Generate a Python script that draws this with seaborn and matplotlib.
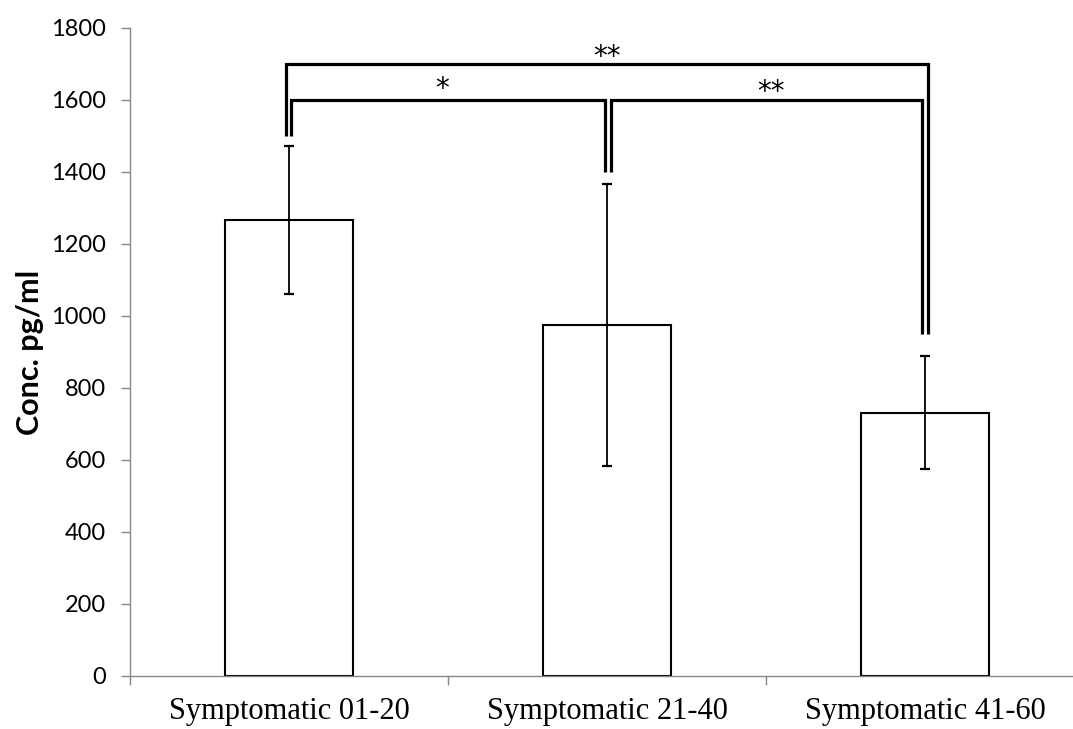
import matplotlib
matplotlib.use("Agg")
import matplotlib.pyplot as plt
import seaborn as sns
import pandas as pd
import numpy as np

categories = ["Symptomatic 01-20", "Symptomatic 21-40", "Symptomatic 41-60"]
means = [1266, 975, 731]
errors = [206, 393, 157]
y_ticks = [0, 200, 400, 600, 800, 1000, 1200, 1400, 1600, 1800]
# significance comparisons: (left group, right group, bracket level, left leg end, right leg end, label)
comparisons = [
    (0, 2, 1700, 1500, 950, "**"),
    (0, 1, 1600, 1500, 1400, "*"),
    (1, 2, 1600, 1400, 950, "**"),
]
star_pos = [(1.0, 1698), (0.48, 1607), (1.515, 1601)]

sns.set_theme(style="white")
plt.rcParams["font.family"] = ["Lato", "DejaVu Sans"]
plt.rcParams["text.color"] = "black"
plt.rcParams["xtick.color"] = "black"
plt.rcParams["ytick.color"] = "black"
plt.rcParams["axes.labelcolor"] = "black"

fig = plt.figure(figsize=(10.73, 7.29), dpi=100)
ax = fig.add_axes([130 / 1073, 1 - 676 / 729, 954 / 1073, 648 / 729])

df = pd.DataFrame({"group": categories, "conc": means})
sns.barplot(data=df, x="group", y="conc", color="white", edgecolor="black",
            linewidth=1.5, width=0.4, ax=ax, errorbar=None)
for p in ax.patches:
    p.set_facecolor("white")
    p.set_edgecolor("black")

ax.errorbar(np.arange(len(categories)), means, yerr=errors, fmt="none",
            ecolor="black", elinewidth=1.3, capsize=3.3, capthick=1.6, zorder=5)

# significance brackets
for (a, b, level, la, lb, lab), (sx, sy) in zip(comparisons, star_pos):
    if b - a == 2:
        xa, xb = a - 0.01, b + 0.01
    else:
        xa = a + (0.006 if a == 0 else 0.012)
        xb = b - (0.006 if b == 1 else 0.01)
    ax.plot([xa, xa, xb, xb], [la, level, level, lb], color="black", lw=2.3,
            solid_joinstyle="miter", solid_capstyle="butt", zorder=6, clip_on=False)
    ax.text(sx, sy, lab, ha="center", va="baseline", fontsize=20, family="DejaVu Sans")

ax.set_ylim(0, 1800)
ax.set_xlim(-0.5, 2.5)
ax.set_yticks(y_ticks)
ax.set_yticklabels([str(v) for v in y_ticks], fontsize=17)

ax.set_xticks([-0.5, 0.5, 1.5, 2.5])
ax.set_xticklabels([])
ax.set_xticks([0, 1, 2], minor=True)
ax.set_xticklabels(categories, minor=True, fontsize=22, family="Liberation Serif")
ax.tick_params(axis="x", which="minor", length=0, pad=15)
ax.tick_params(axis="x", which="major", length=6.5, width=1.0, color="#878787", direction="out", bottom=True)
ax.tick_params(axis="y", length=6.5, width=1.0, color="#878787", labelcolor="black",
               direction="out", left=True, pad=11)

ax.set_xlabel("")
ax.set_ylabel("Conc. pg/ml", fontsize=22, fontweight="bold")
ax.yaxis.set_label_coords(-86 / 954, 0.5)

for s in ["top", "right"]:
    ax.spines[s].set_visible(False)
for s in ["left", "bottom"]:
    ax.spines[s].set_color("#878787")
    ax.spines[s].set_linewidth(1.0)

fig.savefig("out.png", dpi=100)
